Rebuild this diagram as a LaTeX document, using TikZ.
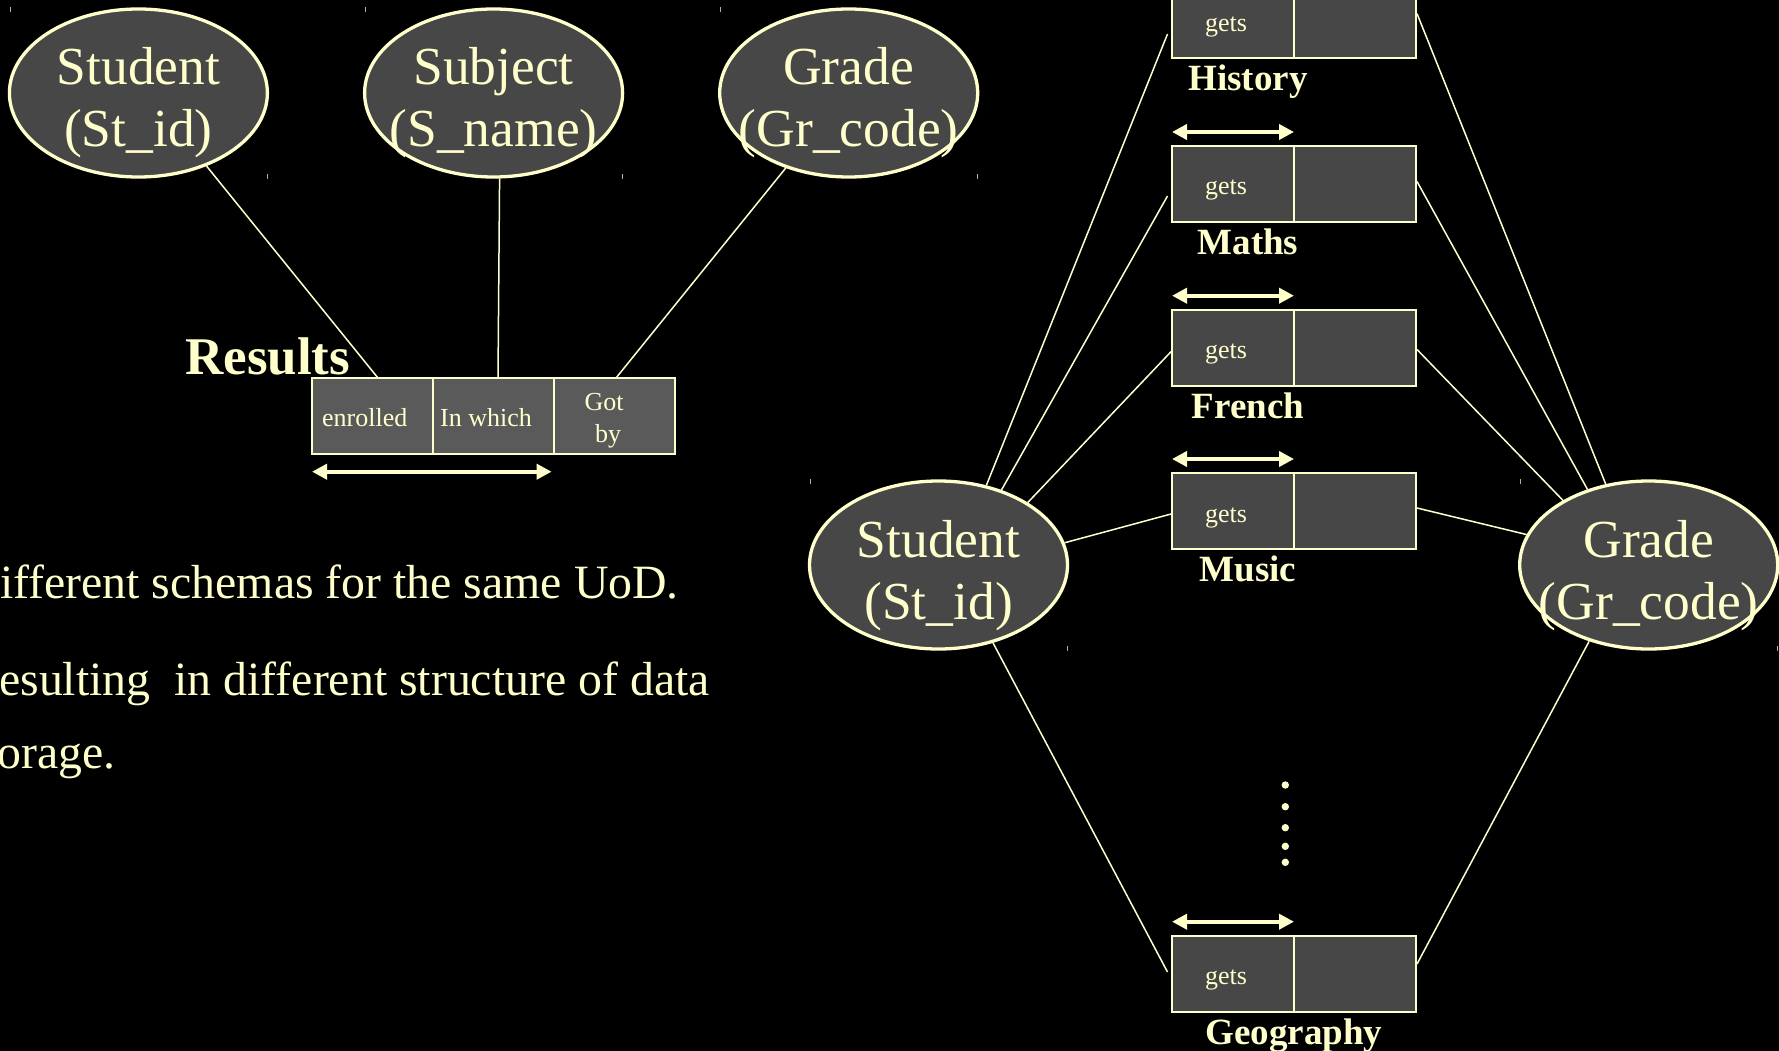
\documentclass[tikz,border=0pt]{standalone}
\usepackage{fontspec}
\setmainfont{Liberation Serif}
\usetikzlibrary{shapes.geometric,arrows.meta}
\definecolor{cream}{HTML}{FFFFCC}
\definecolor{entfill}{HTML}{474747}
\definecolor{cellfill}{HTML}{5A5A5A}
\definecolor{boxfill}{HTML}{474747}

\begin{document}
\begin{tikzpicture}[x=1pt,y=-1pt,
  entity/.style={ellipse, draw=cream, line width=3.3pt, fill=entfill,
    minimum width=258pt, minimum height=168pt, inner sep=0pt},
  enttext/.style={text=cream, font=\fontsize{53.5}{64}\selectfont, inner sep=0pt, anchor=base},
  cell/.style={rectangle, draw=cream, line width=2pt, fill=cellfill,
    minimum width=121pt, minimum height=76pt, inner sep=0pt},
  boxcell/.style={rectangle, draw=cream, line width=2pt, fill=boxfill,
    minimum width=121.5pt, minimum height=76pt, inner sep=0pt},
  small/.style={text=cream, font=\fontsize{26}{28}\selectfont, inner sep=0pt},
  rolelabel/.style={text=cream, font=\fontsize{37}{44}\selectfont\bfseries, inner sep=0pt, anchor=base},
  body/.style={text=cream, font=\fontsize{47.8}{56}\selectfont, inner sep=0pt, anchor=base west},
  link/.style={draw=cream, line width=1.5pt},
  span/.style={draw=cream, line width=4pt,
    {Triangle[length=15pt,width=15pt]}-{Triangle[length=15pt,width=15pt]}},
  tick/.style={draw=cream, line width=1.5pt, opacity=0.7}
]
\fill[black] (0,0) rectangle (1779,1051);
\useasboundingbox (0,0) rectangle (1779,1051);

% ---------- single ternary fact type "Results" ----------
\node[entity] (stuL) at (138.4,93) {};
\node[enttext] (stuLa) at (138.4,85) {Student};
\node[enttext] (stuLb) at (138.4,147) {(St\_id)};
\node[entity] (subL) at (493.6,93) {};
\node[enttext] (subLa) at (493.6,85) {Subject};
\node[enttext] (subLb) at (493.6,147) {(S\_name)};
\node[entity] (grdL) at (848.7,93) {};
\node[enttext] (grdLa) at (848.7,85) {Grade};
\node[enttext] (grdLb) at (848.7,147) {(Gr\_code)};

\node[cell] (r1) at (372.5,416) {};
\node[cell] (r2) at (493.5,416) {};
\node[cell] (r3) at (614.5,416) {};
\node[small, anchor=base west] (r1t) at (322,426.7) {enrolled};
\node[small, anchor=base west] (r2t) at (440,426.7) {In which};
\node[small, anchor=base] (r3a) at (604,410) {Got};
\node[small, anchor=base] (r3b) at (608,442) {by};

\node[text=cream, font=\fontsize{53}{60}\selectfont\bfseries, inner sep=0pt, anchor=base west]
  (results) at (185,374) {Results};

\coordinate (r1top) at (378,378);
\coordinate (r2top) at (498,378);
\coordinate (r3top) at (616,378);
\draw[link] (stuL.-47.3) -- (r1top);
\draw[link] (subL.-86.4) -- (r2top);
\draw[link] (grdL.-130.3) -- (r3top);

\coordinate (spanA) at (312,471.7);
\coordinate (spanB) at (551.6,471.7);
\draw[span] (spanA) -- (spanB);

% ---------- text ----------
\node[body] (line1) at (0,598) {ifferent schemas for the same UoD.};
\node[body] (line2) at (-1,695) {esulting\ \ in different structure of data};
\node[body] (line3) at (-3,768) {orage.};

% ---------- one binary fact type per subject ----------
\node[entity] (stuR) at (938.5,565) {};
\node[enttext] (stuRa) at (938.5,557) {Student};
\node[enttext] (stuRb) at (938.5,619) {(St\_id)};
\node[entity] (grdR) at (1648.7,565) {};
\node[enttext] (grdRa) at (1648.7,557) {Grade};
\node[enttext] (grdRb) at (1648.7,619) {(Gr\_code)};

\foreach \n/\t/\lab/\lx in {his/-17.5/History/1248, mat/146/Maths/1248,
    fre/309.7/French/1248, mus/473/Music/1248, geo/935.7/Geography/1294} {
  \node[boxcell] (\n L) at (1233,\t+38) {};
  \node[boxcell] (\n R) at (1354.75,\t+38) {};
  \node[small, anchor=base] (\n G) at (1226,\t+49) {gets};
  \node[rolelabel] (\n N) at (\lx,\t+108.5) {\lab};
}
\foreach \n/\t in {mat/146, fre/309.7, mus/473, geo/935.7} {
  \coordinate (\n A) at (1172,\t-14);
  \coordinate (\n B) at (1294,\t-14);
  \draw[span] (\n A) -- (\n B);
}

% connector ends beside the boxes
\coordinate (hisP) at (1167.5,34);
\coordinate (matP) at (1167.5,196);
\coordinate (freP) at (1171,351.7);
\coordinate (musP) at (1171,514);
\coordinate (geoP) at (1167.5,972);
\coordinate (hisQ) at (1417,13.6);
\coordinate (matQ) at (1417,181.5);
\coordinate (freQ) at (1417,349.5);
\coordinate (musQ) at (1417,508);
\coordinate (geoQ) at (1417,964);

\draw[link] (stuR.59.1) -- (hisP);
\draw[link] (stuR.50.3) -- (matP);
\draw[link] (stuR.35.7) -- (freP);
\draw[link] (stuR.10.6) -- (musP);
\draw[link] (stuR.-55.4) -- (geoP);
\draw[link] (grdR.118.8) -- (hisQ);
\draw[link] (grdR.129.9) -- (matQ);
\draw[link] (grdR.143.2) -- (freQ);
\draw[link] (grdR.166.9) -- (musQ);
\draw[link] (grdR.-128) -- (geoQ);

% vertical ellipsis between Music and Geography
\foreach \y in {785,806.7,827.7,846.3,862.3}
  \fill[cream] (1285.3,\y) circle (3.7pt);

% small corner handles of the entity frames
\foreach \cx/\cy in {138.4/93, 493.6/93, 848.7/93, 938.5/565, 1648.7/565} {
  \draw[tick] (\cx-128,\cy-86) -- (\cx-128,\cy-81);
  \draw[tick] (\cx+129,\cy+81) -- (\cx+129,\cy+86);
}
\end{tikzpicture}
\end{document}
